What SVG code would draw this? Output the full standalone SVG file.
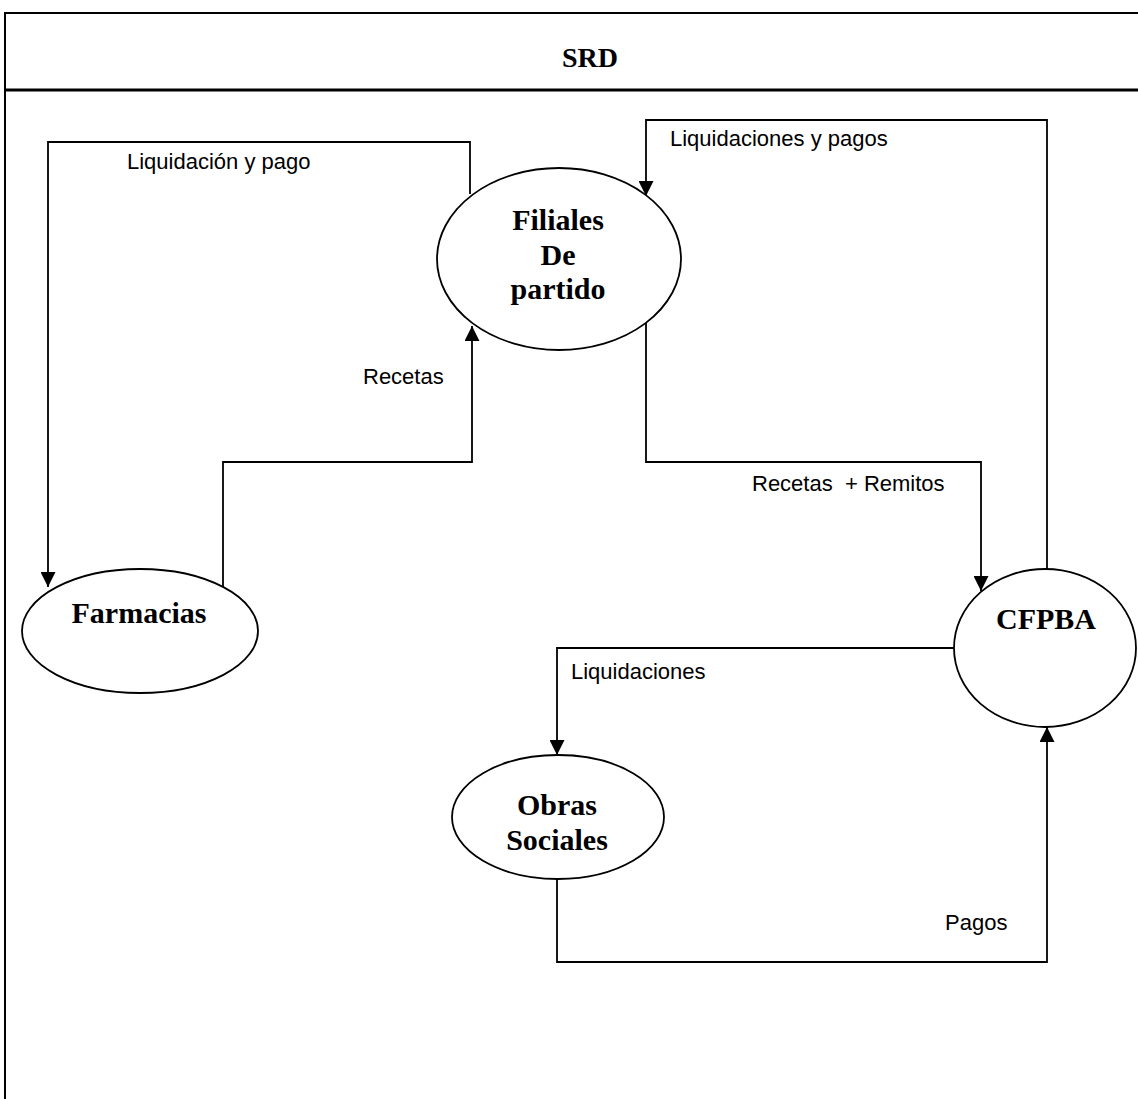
<svg xmlns="http://www.w3.org/2000/svg" width="1138" height="1099" viewBox="0 0 1138 1099">
  <style>
    .frame { stroke: #000; fill: none; }
    .node { fill: #fff; stroke: #000; stroke-width: 1.8; }
    .name { font-family: "Liberation Serif", "Times New Roman", serif; font-weight: bold; font-size: 30px; fill: #000; text-anchor: middle; }
    .flow { fill: none; stroke: #000; stroke-width: 1.8; }
    .lbl { font-family: "Liberation Sans", Arial, sans-serif; font-size: 22px; fill: #000; }
    .title { font-family: "Liberation Serif", "Times New Roman", serif; font-weight: bold; font-size: 28px; fill: #000; text-anchor: middle; }
  </style>
  <defs>
    <marker id="arrow" viewBox="0 0 15 15" refX="15" refY="7.5" markerWidth="15" markerHeight="15" markerUnits="userSpaceOnUse" orient="auto">
      <path d="M0,0 L15,7.5 L0,15 Z" fill="#000"/>
    </marker>
  </defs>

  <rect width="1138" height="1099" fill="#fff"/>

  <!-- page frame and title band -->
  <g id="frame">
    <line class="frame" x1="4" y1="13" x2="1138" y2="13" stroke-width="1.8"/>
    <line class="frame" x1="5" y1="12" x2="5" y2="1099" stroke-width="2"/>
    <line class="frame" x1="4" y1="90" x2="1138" y2="90" stroke-width="2.8"/>
    <text class="title" x="590" y="67">SRD</text>
  </g>

  <!-- data flows -->
  <g id="connectors">
    <!-- Filiales -> Farmacias -->
    <polyline class="flow" points="470,194 470,142 48,142 48,587" marker-end="url(#arrow)"/>
    <text class="lbl" x="127" y="169">Liquidación y pago</text>

    <!-- Farmacias -> Filiales -->
    <polyline class="flow" points="223,587 223,462 472,462 472,326" marker-end="url(#arrow)"/>
    <text class="lbl" x="363" y="384">Recetas</text>

    <!-- Filiales -> CFPBA -->
    <polyline class="flow" points="646,323 646,462 981,462 981,591" marker-end="url(#arrow)"/>
    <text class="lbl" x="752" y="491" xml:space="preserve">Recetas  + Remitos</text>

    <!-- CFPBA -> Filiales -->
    <polyline class="flow" points="1047,569 1047,120 646,120 646,196" marker-end="url(#arrow)"/>
    <text class="lbl" x="670" y="146">Liquidaciones y pagos</text>

    <!-- CFPBA -> Obras Sociales -->
    <polyline class="flow" points="954,648 557,648 557,755" marker-end="url(#arrow)"/>
    <text class="lbl" x="571" y="679">Liquidaciones</text>

    <!-- Obras Sociales -> CFPBA -->
    <polyline class="flow" points="557,879 557,962 1047,962 1047,727" marker-end="url(#arrow)"/>
    <text class="lbl" x="945" y="930">Pagos</text>
  </g>

  <g id="filiales">
    <ellipse class="node" cx="559" cy="259" rx="122" ry="91"/>
    <text class="name" x="558" y="230">Filiales</text>
    <text class="name" x="558" y="265">De</text>
    <text class="name" x="558" y="299">partido</text>
  </g>

  <g id="farmacias">
    <ellipse class="node" cx="140" cy="631" rx="118" ry="62"/>
    <text class="name" x="139" y="623">Farmacias</text>
  </g>

  <g id="cfpba">
    <ellipse class="node" cx="1045" cy="648" rx="91" ry="79"/>
    <text class="name" x="1046" y="629">CFPBA</text>
  </g>

  <g id="obras-sociales">
    <ellipse class="node" cx="558" cy="817" rx="106" ry="62"/>
    <text class="name" x="557" y="815">Obras</text>
    <text class="name" x="557" y="850">Sociales</text>
  </g>
</svg>
